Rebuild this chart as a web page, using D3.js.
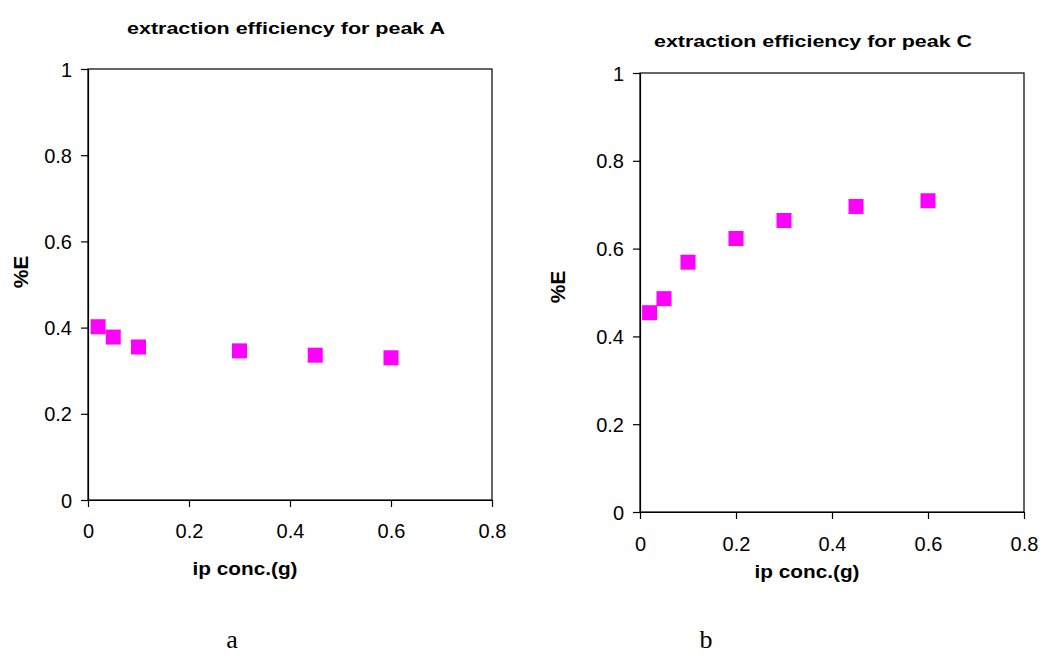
<!DOCTYPE html>
<html>
<head>
<meta charset="utf-8">
<script src="https://cdn.jsdelivr.net/npm/d3@7"></script>
<style>
  body { margin: 0; background: #fff; }
  svg { display: block; }
  .tick text { font-family: Arial, "Liberation Sans", sans-serif; }
</style>
</head>
<body>
<div id="chart"></div>
<script>
// peak A
const concA = [0.02, 0.05, 0.1, 0.3, 0.45, 0.6];
const effA = [0.402, 0.378, 0.355, 0.346, 0.336, 0.330];
// peak C
const concC = [0.02, 0.05, 0.1, 0.2, 0.3, 0.45, 0.6];
const effC = [0.454, 0.486, 0.569, 0.623, 0.664, 0.696, 0.709];

const xTicks = [0, 0.2, 0.4, 0.6, 0.8];
const yTicks = [0, 0.2, 0.4, 0.6, 0.8, 1];
const titles = ["extraction efficiency for peak A", "extraction efficiency for peak C"];
const xLabel = "ip conc.(g)";
const yLabel = "%E";
const captions = ["a", "b"];

const W = 1041, H = 667;
const svg = d3.select("#chart").append("svg")
    .attr("width", W)
    .attr("height", H);

const font = "Arial, 'Liberation Sans', sans-serif";

function drawPanel(p) {
    const x = d3.scaleLinear().domain([0, 0.8]).range([p.left, p.right]);
    const y = d3.scaleLinear().domain([0, 1]).range([p.bottom, p.top]);
    const g = svg.append("g");

    // frame
    g.append("rect")
        .attr("x", p.left).attr("y", p.top)
        .attr("width", p.right - p.left).attr("height", p.bottom - p.top)
        .attr("fill", "none").attr("stroke", "#000").attr("stroke-width", 1.2);

    // axes
    const xa = g.append("g")
        .attr("transform", `translate(0, ${p.bottom})`)
        .call(d3.axisBottom(x).tickValues(xTicks).tickFormat(d => String(d)).tickSize(7).tickSizeOuter(0));
    xa.selectAll("text").attr("font-size", 20).attr("fill", "#000").attr("dy", p.xdy);
    const ya = g.append("g")
        .attr("transform", `translate(${p.left}, 0)`)
        .call(d3.axisLeft(y).tickValues(yTicks).tickFormat(d => String(d)).tickSize(7).tickSizeOuter(0));
    ya.selectAll("text").attr("font-size", 20).attr("fill", "#000").attr("x", p.ytx).attr("dy", "0.35em");
    g.selectAll(".domain").attr("stroke", "#000").attr("stroke-width", 1.2);
    g.selectAll(".tick line").attr("stroke", "#000").attr("stroke-width", 1.2);

    // points
    const size = 15;
    g.selectAll("rect.pt")
        .data(d3.zip(p.xs, p.ys))
        .enter()
        .append("rect")
            .attr("class", "pt")
            .attr("x", d => x(d[0]) - size / 2)
            .attr("y", d => y(d[1]) - size / 2)
            .attr("width", size)
            .attr("height", size)
            .attr("fill", "#ff00ff");

    // texts
    g.append("text")
        .attr("x", p.titleX).attr("y", p.titleY)
        .attr("text-anchor", "middle")
        .attr("font-family", font).attr("font-weight", "bold").attr("font-size", 17)
        .attr("textLength", 318).attr("lengthAdjust", "spacingAndGlyphs")
        .text(p.title);
    g.append("text")
        .attr("x", p.xlabX).attr("y", p.xlabY)
        .attr("text-anchor", "middle")
        .attr("font-family", font).attr("font-weight", "bold").attr("font-size", 19)
        .attr("textLength", 105).attr("lengthAdjust", "spacingAndGlyphs")
        .text(xLabel);
    g.append("text")
        .attr("transform", `translate(${p.ylabX}, ${p.ylabY}) rotate(-90)`)
        .attr("text-anchor", "middle")
        .attr("font-family", font).attr("font-weight", "bold").attr("font-size", 21)
        .text(yLabel);
    g.append("text")
        .attr("x", p.capX).attr("y", 648)
        .attr("text-anchor", "middle")
        .attr("font-family", "'Liberation Serif', 'Times New Roman', serif")
        .attr("font-size", 26)
        .text(p.caption);
}

drawPanel({
    left: 88, right: 492, top: 69, bottom: 500,
    xs: concA, ys: effA, title: titles[0], caption: captions[0],
    xdy: 28, ytx: -16,
    titleX: 286, titleY: 34,
    xlabX: 245, xlabY: 575,
    ylabX: 28, ylabY: 272,
    capX: 232
});
drawPanel({
    left: 640, right: 1024, top: 73, bottom: 512,
    xs: concC, ys: effC, title: titles[1], caption: captions[1],
    xdy: 29, ytx: -16,
    titleX: 813, titleY: 47,
    xlabX: 807, xlabY: 578,
    ylabX: 565, ylabY: 287,
    capX: 706
});
</script>
</body>
</html>
